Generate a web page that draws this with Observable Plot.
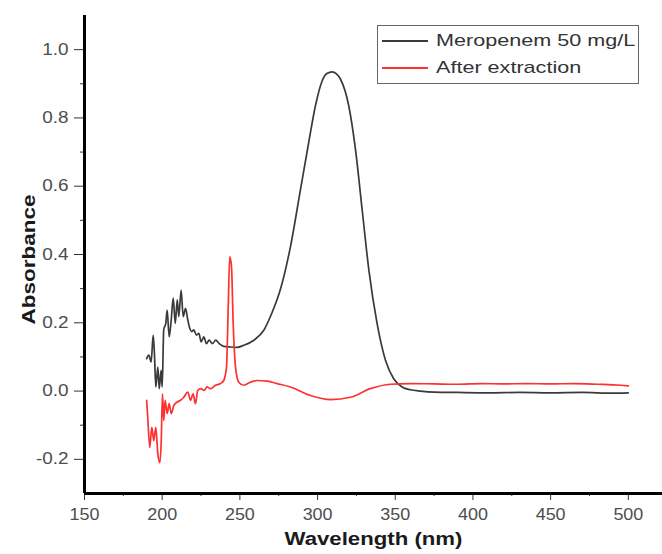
<!DOCTYPE html>
<html>
<head>
<meta charset="utf-8">
<script src="https://cdn.jsdelivr.net/npm/d3@7"></script>
<script src="https://cdn.jsdelivr.net/npm/@observablehq/plot@0.6"></script>
<style>
  body { margin: 0; background: #fff; }
  #wrap { position: relative; width: 662px; height: 554px; font-family: "Liberation Sans", Arial, sans-serif; }
  #legend { position: absolute; left: 377px; top: 25px; width: 262px; height: 59px; border: 1.5px solid #666; background: #fff; box-sizing: border-box; }
  .row { position: absolute; left: 0; height: 20px; display: flex; align-items: center; font-size: 17px; color: #333; white-space: nowrap; }
  .sw { width: 46px; height: 0; margin-left: 4px; margin-right: 8px; border-top: 2px solid; }
  .lt { display: inline-block; transform: scaleX(1.27); transform-origin: left center; }
</style>
</head>
<body>
<div id="wrap"></div>
<script>
const seriesNames = ["Meropenem 50 mg/L", "After extraction"];
const seriesColors = ["#3a3a3a", "#ff3030"];

const meroWl = [190,191.4,192.9,194.2,195,195.9,197.2,198.1,199.3,200,201,202.3,203.2,204.5,205.8,207.1,208.4,209.7,210.7,212.2,213.5,215,216.5,217.8,219,220.3,222.1,223.6,225.1,226.8,228.5,230.2,232.4,234.5,236.7,239.6,243.9,248.2,252.5,259,265.4,270,276.1,282.6,289,294.3,298.6,303,306,309.4,312,314.7,320.1,324.4,328.7,333,338.3,343.7,349,354.4,359.8,366.2,375,390,410,430,450,470,490,500];
const meroAbs = [0.095,0.105,0.085,0.164,0.11,0.012,0.07,0.007,0.061,0.012,0.18,0.198,0.237,0.159,0.208,0.272,0.198,0.267,0.218,0.296,0.218,0.242,0.208,0.183,0.174,0.179,0.164,0.169,0.144,0.159,0.139,0.149,0.139,0.149,0.139,0.131,0.129,0.128,0.134,0.149,0.178,0.222,0.298,0.424,0.59,0.728,0.835,0.909,0.930,0.935,0.930,0.914,0.835,0.708,0.531,0.355,0.198,0.09,0.036,0.012,0.004,0.0,-0.003,-0.004,-0.005,-0.004,-0.005,-0.004,-0.006,-0.005];

const extWl = [190,190.7,192,193.3,194.6,195.9,197.2,198.5,199.4,200.2,201,201.9,203.2,204.5,205.8,207.5,209.7,211.8,213.9,216.5,218.2,219.9,221.4,222.9,225.1,226.8,228.9,231.1,234.3,237.5,239.6,241.4,242.5,243.5,244.6,245.7,247.2,249.3,252.5,256.8,261.1,267.6,274,282.6,295.4,308.3,321.2,334,346.9,359.8,375,390,405,420,435,450,465,480,495,500];
const extAbs = [-0.027,-0.076,-0.165,-0.106,-0.145,-0.106,-0.184,-0.21,-0.145,-0.008,-0.086,-0.027,-0.066,-0.037,-0.066,-0.042,-0.032,-0.027,-0.018,-0.003,-0.027,-0.008,-0.037,0.002,0.007,0.002,0.012,0.007,0.017,0.022,0.031,0.07,0.247,0.394,0.365,0.198,0.07,0.026,0.017,0.026,0.031,0.029,0.022,0.012,-0.013,-0.025,-0.018,0.007,0.02,0.022,0.021,0.020,0.022,0.021,0.022,0.021,0.022,0.020,0.017,0.015];

const xTicks = [150,200,250,300,350,400,450,500];
const xMinor = [175,225,275,325,375,425,475];
const yTicks = [-0.2,0,0.2,0.4,0.6,0.8,1.0];
const yMinor = [-0.1,0.1,0.3,0.5,0.7,0.9];

const mero = meroWl.map((w,i)=>({w, a: meroAbs[i], s: seriesNames[0]}));
const ext = extWl.map((w,i)=>({w, a: extAbs[i], s: seriesNames[1]}));

const plot = Plot.plot({
  width: 662, height: 554,
  marginLeft: 84, marginRight: 0, marginTop: 15, marginBottom: 61,
  style: {fontFamily: '"Liberation Sans", Arial, sans-serif', background: "#fff", overflow: "visible"},
  x: {domain: [150, 522]},
  y: {domain: [-0.3, 1.1]},
  marks: [
    Plot.axisX({ticks: xTicks, tickSize: 7, tickPadding: 8, fontSize: 16, color: "#4d4d4d", stroke: "#333", label: null, tickFormat: d => String(d)}),
    Plot.axisX({ticks: xMinor, tickSize: 3, text: null, stroke: "#333", label: null}),
    Plot.axisY({ticks: yTicks, tickSize: 10, tickPadding: 6, fontSize: 16, color: "#4d4d4d", stroke: "#333", label: null, tickFormat: d => d.toFixed(1)}),
    Plot.axisY({ticks: yMinor, tickSize: 4, text: null, stroke: "#333", label: null}),
    Plot.line(mero, {x: "w", y: "a", stroke: seriesColors[0], strokeWidth: 1.7, curve: "monotone-x"}),
    Plot.line(ext, {x: "w", y: "a", stroke: seriesColors[1], strokeWidth: 1.7, curve: "monotone-x"}),
    Plot.ruleX([150], {stroke: "#000", strokeWidth: 3}),
    Plot.ruleY([-0.3], {stroke: "#000", strokeWidth: 3}),
    Plot.text(["Absorbance"], {frameAnchor: "left", textAnchor: "middle", dx: -55, dy: 5, rotate: -90, fontSize: 18, fontWeight: "bold", fill: "#1a1a1a"}),
    Plot.text(["Wavelength (nm)"], {frameAnchor: "bottom", dy: 51, fontSize: 18, fontWeight: "bold", fill: "#1a1a1a"})
  ]
});
const wrap = document.getElementById("wrap");
wrap.appendChild(plot);

// horizontally widen the text like the reference's rendering
function widen(sel, k) {
  plot.querySelectorAll(sel).forEach(t => {
    const len = t.getComputedTextLength();
    t.setAttribute("textLength", (len * k).toFixed(1));
    t.setAttribute("lengthAdjust", "spacingAndGlyphs");
  });
}
widen('g[aria-label="x-axis tick label"] text', 1.12);
widen('g[aria-label="y-axis tick label"] text', 1.18);
plot.querySelectorAll('g[aria-label="text"] text').forEach(t => {
  const target = t.textContent === "Absorbance" ? 130 : 178;
  t.setAttribute("textLength", target);
  t.setAttribute("lengthAdjust", "spacingAndGlyphs");
});

const leg = document.createElement("div");
leg.id = "legend";
seriesNames.forEach((n,i)=>{
  const r = document.createElement("div");
  r.className = "row";
  r.style.top = (5 + i*27) + "px";
  r.innerHTML = `<span class="sw" style="border-color:${seriesColors[i]}"></span><span class="lt">${n}</span>`;
  leg.appendChild(r);
});
wrap.appendChild(leg);
</script>
</body>
</html>
